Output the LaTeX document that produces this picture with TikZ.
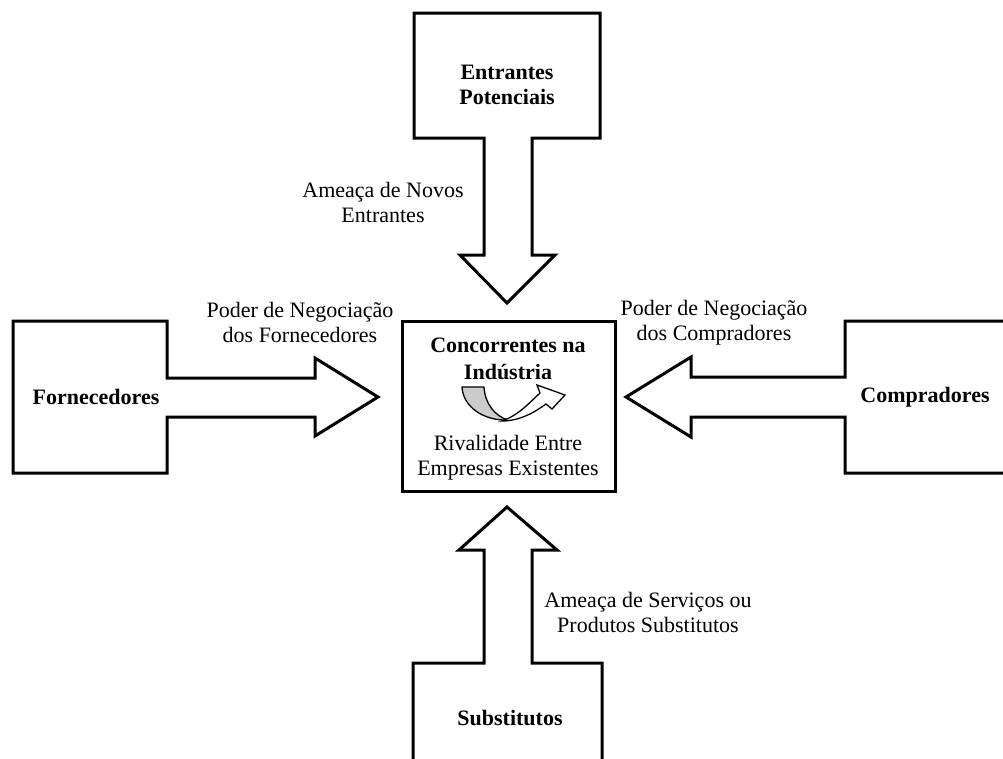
\documentclass[tikz,border=0pt]{standalone}
\usepackage{fontspec}
\setmainfont{Liberation Serif}
\begin{document}
\begin{tikzpicture}[x=1pt,y=-1pt,
  force/.style={draw=black,line width=3pt,fill=white,line join=miter},
  title/.style={font=\fontsize{22}{25}\selectfont\bfseries,align=center,inner sep=0pt},
  label/.style={font=\fontsize{22}{25}\selectfont,align=center,inner sep=0pt}]
\useasboundingbox (0,0) rectangle (1003,758);
\clip (0,0) rectangle (1003,758);

% five forces: box-with-arrow outlines
\draw[force] (414,13) -- (600,13) -- (600,138) -- (532,138) -- (532,255) -- (555,255)
  -- (507,303) -- (460,255) -- (484,255) -- (484,138) -- (414,138) -- cycle;
\draw[force] (13,321) -- (167,321) -- (167,378) -- (315,378) -- (315,358) -- (378,397)
  -- (315,436) -- (315,417) -- (167,417) -- (167,473) -- (13,473) -- cycle;
\draw[force] (1012,321) -- (845,321) -- (845,377) -- (691,377) -- (691,357) -- (626,397)
  -- (691,437) -- (691,417) -- (845,417) -- (845,473) -- (1012,473);
\draw[force] (413,770) -- (413,663) -- (484,663) -- (484,550) -- (459,550) -- (507,507)
  -- (557,550) -- (532,550) -- (532,663) -- (602,663) -- (602,770);

% central box
\draw[force] (402,321) rectangle (615,491);

% rivalry curved arrow: shaded back end and white arrow end
\draw[line width=1.3pt,fill=gray!40,line join=round] (462,387) -- (484,387)
  .. controls (485,404) and (495,416) .. (508,420)
  .. controls (484,421) and (463,407) .. (462,387) -- cycle;
\draw[line width=1.3pt,fill=white,line join=miter] (502,421)
  .. controls (520,421) and (535,412) .. (546,404) -- (552,409) -- (565,395)
  -- (537,385) -- (540,393)
  .. controls (529,403) and (519,415) .. (502,421) -- cycle;

% texts
\node[title] (entrantes) at (507,84.5) {Entrantes\\Potenciais};
\node[title] (fornecedores) at (96,397) {Fornecedores};
\node[title] (compradores) at (925,397) {Compradores};
\node[title] (substitutos) at (510,718) {Substitutos};
\node[title,font=\fontsize{22}{27}\selectfont\bfseries] (concorrentes) at (508,358.5) {Concorrentes na\\Indústria};
\node[label] (rivalidade) at (508,457.5) {Rivalidade Entre\\Empresas Existentes};
\node[label] (novos) at (383,202.5) {Ameaça de Novos\\Entrantes};
\node[label] (poderF) at (300,322.5) {Poder de Negociação\\dos Fornecedores};
\node[label] (poderC) at (714,322.5) {Poder de Negociação\\dos Compradores};
\node[label] (servicos) at (648,612.5) {Ameaça de Serviços ou\\Produtos Substitutos};
\end{tikzpicture}
\end{document}
